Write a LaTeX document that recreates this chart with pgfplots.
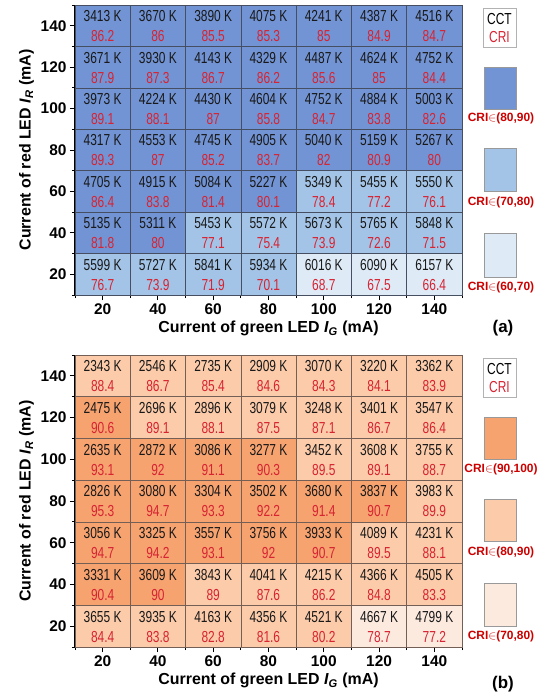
\documentclass[border=0pt]{standalone}
\usepackage{pgfplots}
\pgfplotsset{compat=1.18}
\usepackage{pgfplotstable}
\usepackage{fontspec}
\setmainfont{Liberation Sans}
\newfontfamily\narrow[FakeStretch=0.75]{Liberation Sans}

\definecolor{bA}{RGB}{222,234,246}
\definecolor{bB}{RGB}{163,196,230}
\definecolor{bC}{RGB}{114,148,212}
\definecolor{oA}{RGB}{253,234,223}
\definecolor{oB}{RGB}{252,203,170}
\definecolor{oC}{RGB}{247,163,112}
\definecolor{crired}{RGB}{215,35,50}
\definecolor{legred}{RGB}{205,0,0}
\definecolor{gridA}{RGB}{70,78,98}
\definecolor{gridB}{RGB}{115,95,85}

\pgfdeclareplotmark{cellA}{\pgfpathrectangle{\pgfpoint{-27.643bp}{-20.714bp}}{\pgfpoint{55.286bp}{41.429bp}}\pgfusepathqfillstroke}
\pgfdeclareplotmark{cellB}{\pgfpathrectangle{\pgfpoint{-27.643bp}{-20.857bp}}{\pgfpoint{55.286bp}{41.714bp}}\pgfusepathqfillstroke}

\pgfplotstableread{
x y c cct cri
20 20 1 5599 76.7
40 20 1 5727 73.9
60 20 1 5841 71.9
80 20 1 5934 70.1
100 20 0 6016 68.7
120 20 0 6090 67.5
140 20 0 6157 66.4
20 40 2 5135 81.8
40 40 2 5311 80
60 40 1 5453 77.1
80 40 1 5572 75.4
100 40 1 5673 73.9
120 40 1 5765 72.6
140 40 1 5848 71.5
20 60 2 4705 86.4
40 60 2 4915 83.8
60 60 2 5084 81.4
80 60 2 5227 80.1
100 60 1 5349 78.4
120 60 1 5455 77.2
140 60 1 5550 76.1
20 80 2 4317 89.3
40 80 2 4553 87
60 80 2 4745 85.2
80 80 2 4905 83.7
100 80 2 5040 82
120 80 2 5159 80.9
140 80 2 5267 80
20 100 2 3973 89.1
40 100 2 4224 88.1
60 100 2 4430 87
80 100 2 4604 85.8
100 100 2 4752 84.7
120 100 2 4884 83.8
140 100 2 5003 82.6
20 120 2 3671 87.9
40 120 2 3930 87.3
60 120 2 4143 86.7
80 120 2 4329 86.2
100 120 2 4487 85.6
120 120 2 4624 85
140 120 2 4752 84.4
20 140 2 3413 86.2
40 140 2 3670 86
60 140 2 3890 85.5
80 140 2 4075 85.3
100 140 2 4241 85
120 140 2 4387 84.9
140 140 2 4516 84.7
}\dataA

\pgfplotstableread{
x y c cct cri
20 20 1 3655 84.4
40 20 1 3935 83.8
60 20 1 4163 82.8
80 20 1 4356 81.6
100 20 1 4521 80.2
120 20 0 4667 78.7
140 20 0 4799 77.2
20 40 2 3331 90.4
40 40 2 3609 90
60 40 1 3843 89
80 40 1 4041 87.6
100 40 1 4215 86.2
120 40 1 4366 84.8
140 40 1 4505 83.3
20 60 2 3056 94.7
40 60 2 3325 94.2
60 60 2 3557 93.1
80 60 2 3756 92
100 60 2 3933 90.7
120 60 1 4089 89.5
140 60 1 4231 88.1
20 80 2 2826 95.3
40 80 2 3080 94.7
60 80 2 3304 93.3
80 80 2 3502 92.2
100 80 2 3680 91.4
120 80 2 3837 90.7
140 80 1 3983 89.9
20 100 2 2635 93.1
40 100 2 2872 92
60 100 2 3086 91.1
80 100 2 3277 90.3
100 100 1 3452 89.5
120 100 1 3608 89.1
140 100 1 3755 88.7
20 120 2 2475 90.6
40 120 1 2696 89.1
60 120 1 2896 88.1
80 120 1 3079 87.5
100 120 1 3248 87.1
120 120 1 3401 86.7
140 120 1 3547 86.4
20 140 1 2343 88.4
40 140 1 2546 86.7
60 140 1 2735 85.4
80 140 1 2909 84.6
100 140 1 3070 84.3
120 140 1 3220 84.1
140 140 1 3362 83.9
}\dataB

\pgfplotsset{
  heat/.style={
    scale only axis, width=387bp,
    xmin=10, xmax=150, ymin=10, ymax=150,
    xtick={20,40,...,140}, ytick={20,40,...,140},
    minor xtick={10,30,...,150}, minor ytick={10,30,...,150},
    axis x line*=bottom, axis y line*=left,
    tick align=outside, axis on top,
    major tick length=5bp, minor tick length=3bp,
    axis line style={line width=1.3pt, black},
    every tick/.style={line width=1pt, black},
    /pgf/number format/assume math mode=true,
    ticklabel style={font=\bfseries\fontsize{15.5}{16}\selectfont},
    label style={font=\bfseries\fontsize{16}{18}\selectfont},
    xlabel={Current of green LED \textit{I}\textsubscript{\textit{G}} (mA)},
    ylabel={Current of red LED \textit{I}\textsubscript{\textit{R}} (mA)},
  },
  cctlab/.style={draw=none, mark=none, point meta=explicit symbolic,
    nodes near coords={\pgfplotspointmeta\ K}, nodes near coords align={center},
    every node near coord/.append style={anchor=center, inner sep=0pt, yshift=9.5bp,
      text=black!90, font=\narrow\fontsize{16}{16}\selectfont}},
  crilab/.style={draw=none, mark=none, point meta=explicit symbolic,
    nodes near coords={\pgfplotspointmeta}, nodes near coords align={center},
    every node near coord/.append style={anchor=center, inner sep=0pt, yshift=-10.5bp,
      text=crired, font=\narrow\fontsize{16}{16}\selectfont}},
}

\begin{document}
\begin{tikzpicture}
\path[use as bounding box] (0,0) rectangle (550bp,-698bp);

\begin{axis}[heat, height=290bp, at={(75bp,-295bp)}, anchor=south west]
\addplot[scatter, only marks, point meta=explicit symbolic,
  scatter/classes={0={mark=cellA, fill=bA, draw=gridA},
                   1={mark=cellA, fill=bB, draw=gridA},
                   2={mark=cellA, fill=bC, draw=gridA}},
  mark options={line width=0.6pt}]
  table[x=x, y=y, meta=c] {\dataA};
\addplot[cctlab] table[x=x, y=y, meta=cct] {\dataA};
\addplot[crilab] table[x=x, y=y, meta=cri] {\dataA};
\end{axis}

\begin{axis}[heat, height=292bp, at={(75bp,-647bp)}, anchor=south west]
\addplot[scatter, only marks, point meta=explicit symbolic,
  scatter/classes={0={mark=cellB, fill=oA, draw=gridB},
                   1={mark=cellB, fill=oB, draw=gridB},
                   2={mark=cellB, fill=oC, draw=gridB}},
  mark options={line width=0.6pt}]
  table[x=x, y=y, meta=c] {\dataB};
\addplot[cctlab] table[x=x, y=y, meta=cct] {\dataB};
\addplot[crilab] table[x=x, y=y, meta=cri] {\dataB};
\end{axis}

% legend (a)
\tikzset{legtxt/.style={font=\bfseries\fontsize{12}{12}\selectfont, text=legred, inner sep=0pt},
  cellt/.style={font=\narrow\fontsize{16}{16}\selectfont, inner sep=0pt}}
\draw[black!30, fill=white, line width=0.8pt] (483bp,-8bp) rectangle (516bp,-47bp);
\node[cellt] at (499.5bp,-19bp) {CCT};
\node[cellt, text=crired] at (499.5bp,-37bp) {CRI};
\draw[black!40, fill=bC, line width=0.8pt] (484bp,-67bp) rectangle (516bp,-109bp);
\node[legtxt] at (501bp,-118bp) {CRI$\in$(80,90)};
\draw[black!40, fill=bB, line width=0.8pt] (484bp,-148bp) rectangle (516bp,-191bp);
\node[legtxt] at (501bp,-202bp) {CRI$\in$(70,80)};
\draw[black!40, fill=bA, line width=0.8pt] (484bp,-233bp) rectangle (516bp,-277bp);
\node[legtxt] at (501bp,-287bp) {CRI$\in$(60,70)};
\node[font=\bfseries\fontsize{17}{17}\selectfont] at (503bp,-328bp) {(a)};

% legend (b)
\draw[black!30, fill=white, line width=0.8pt] (483bp,-358bp) rectangle (516bp,-397bp);
\node[cellt] at (499.5bp,-369bp) {CCT};
\node[cellt, text=crired] at (499.5bp,-387bp) {CRI};
\draw[black!40, fill=oC, line width=0.8pt] (484bp,-417bp) rectangle (516bp,-459bp);
\node[legtxt] at (501bp,-469bp) {CRI$\in$(90,100)};
\draw[black!40, fill=oB, line width=0.8pt] (484bp,-499bp) rectangle (516bp,-541bp);
\node[legtxt] at (501bp,-552bp) {CRI$\in$(80,90)};
\draw[black!40, fill=oA, line width=0.8pt] (484bp,-583bp) rectangle (516bp,-626bp);
\node[legtxt] at (501bp,-636bp) {CRI$\in$(70,80)};
\node[font=\bfseries\fontsize{17}{17}\selectfont] at (503bp,-684bp) {(b)};
\end{tikzpicture}
\end{document}
